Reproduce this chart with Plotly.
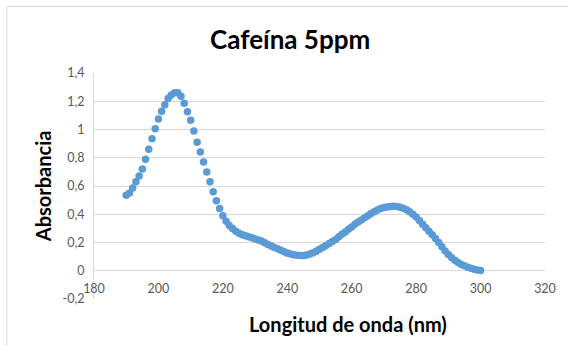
import plotly.graph_objects as go

# Absorbance spectrum of a 5 ppm caffeine solution, 1 nm steps
wavelength_nm = list(range(190, 301))
absorbance = [
    0.535, 0.55, 0.585, 0.63, 0.67, 0.72, 0.79, 0.86, 0.935, 1.005,   # 190-199
    1.075, 1.13, 1.175, 1.22, 1.245, 1.26, 1.26, 1.235, 1.185, 1.125,  # 200-209
    1.065, 0.99, 0.91, 0.84, 0.77, 0.70, 0.63, 0.56, 0.495, 0.44,      # 210-219
    0.39, 0.35, 0.32, 0.30, 0.28, 0.265, 0.255, 0.248, 0.24, 0.233,    # 220-229
    0.225, 0.218, 0.21, 0.198, 0.185, 0.175, 0.165, 0.155, 0.145, 0.135,  # 230-239
    0.125, 0.118, 0.113, 0.11, 0.108, 0.108, 0.112, 0.118, 0.127, 0.138,  # 240-249
    0.152, 0.165, 0.178, 0.193, 0.207, 0.222, 0.24, 0.258, 0.275, 0.293,  # 250-259
    0.31, 0.33, 0.345, 0.36, 0.375, 0.39, 0.405, 0.418, 0.43, 0.44,    # 260-269
    0.447, 0.452, 0.455, 0.456, 0.455, 0.45, 0.442, 0.432, 0.418, 0.40,  # 270-279
    0.38, 0.355, 0.33, 0.305, 0.28, 0.255, 0.228, 0.20, 0.17, 0.14,    # 280-289
    0.115, 0.093, 0.075, 0.058, 0.045, 0.035, 0.025, 0.017, 0.01, 0.005,  # 290-299
    0.002,                                                              # 300
]

x_ticks = [180, 200, 220, 240, 260, 280, 300, 320]
y_ticks = [-0.2, 0, 0.2, 0.4, 0.6, 0.8, 1.0, 1.2, 1.4]
y_tick_text = ["-0,2", "0", "0,2", "0,4", "0,6", "0,8", "1", "1,2", "1,4"]

title_text = "Cafeína 5ppm"
x_title = "Longitud de onda (nm)"
y_title = "Absorbancia"

W, H = 568, 345
L, R, T, B = 94, 21, 73, 46
plot_w, plot_h = W - L - R, H - T - B

FONT = "Lato"
GRID = "#d9d9d9"
TICK_COLOR = "#595959"


def px_x(px):
    return (px - L) / plot_w


def px_y(py):
    return (H - B - py) / plot_h


fig = go.Figure()
fig.add_trace(go.Scatter(
    x=wavelength_nm,
    y=absorbance,
    mode="markers",
    marker=dict(size=7.5, color="#5b9bd5", line=dict(width=0)),
    hoverinfo="x+y",
))

y_min, y_max = y_ticks[0], y_ticks[-1]
zero_pos = (0 - y_min) / (y_max - y_min)

fig.update_layout(
    width=W,
    height=H,
    margin=dict(l=L, r=R, t=T, b=B),
    paper_bgcolor="white",
    plot_bgcolor="white",
    showlegend=False,
    font=dict(family=FONT, color=TICK_COLOR, size=12),
    xaxis=dict(
        range=[x_ticks[0], x_ticks[-1]],
        tickvals=x_ticks,
        ticktext=[str(v) for v in x_ticks],
        showgrid=False,
        zeroline=False,
        showline=False,
        ticks="",
        anchor="free",
        position=zero_pos,
        ticklabelstandoff=9,
        tickfont=dict(family=FONT, size=12.5, color=TICK_COLOR),
    ),
    yaxis=dict(
        range=[y_min, y_max],
        tickvals=y_ticks,
        ticktext=y_tick_text,
        showgrid=True,
        gridcolor=GRID,
        gridwidth=1,
        zeroline=False,
        showline=True,
        linecolor=GRID,
        linewidth=1,
        ticks="",
        ticklabelstandoff=6,
        tickfont=dict(family=FONT, size=12.5, color=TICK_COLOR),
    ),
    annotations=[
        dict(text=f"<b>{title_text}</b>", x=px_x(291), y=px_y(39),
             xref="paper", yref="paper", showarrow=False,
             xanchor="center", yanchor="middle",
             font=dict(family=FONT, size=26, color="black")),
        dict(text=f"<b>{x_title}</b>", x=px_x(349), y=px_y(324),
             xref="paper", yref="paper", showarrow=False,
             xanchor="center", yanchor="middle",
             font=dict(family=FONT, size=20, color="black")),
        dict(text=f"<b>{y_title}</b>", x=px_x(43), y=px_y(186),
             xref="paper", yref="paper", showarrow=False, textangle=-90,
             xanchor="center", yanchor="middle",
             font=dict(family=FONT, size=20, color="black")),
    ],
    shapes=[
        dict(type="rect", xref="paper", yref="paper",
             x0=px_x(6.5), x1=px_x(W + 5), y0=px_y(H + 5), y1=px_y(6.5),
             line=dict(color="#d9d9d9", width=1), fillcolor="rgba(0,0,0,0)",
             layer="below"),
    ],
)

fig.write_html("out.html")
